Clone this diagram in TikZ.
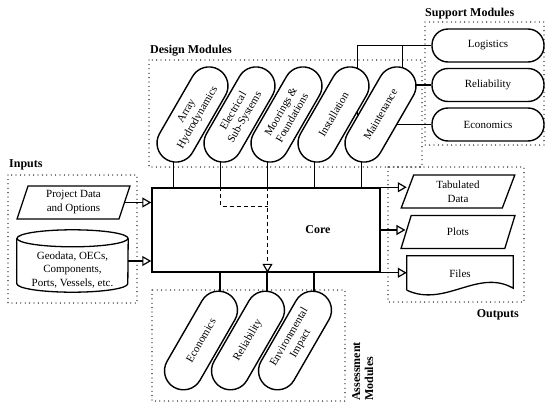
\documentclass[tikz,border=0pt]{standalone}
\usepackage{fontspec}
\setmainfont{Liberation Serif}
\usepackage{tikz}
\usetikzlibrary{arrows.meta,positioning,calc,shapes.geometric,backgrounds}
\tikzset{
  modbox/.style={draw, line width=1.4pt, rounded corners=19pt, rotate=60,
    minimum width=104pt, minimum height=38pt, inner sep=1pt, align=center, fill=white,
    font=\fontsize{11}{13}\selectfont},
  suppbox/.style={draw, line width=1.4pt, rounded corners=16pt,
    minimum width=112pt, minimum height=33pt, align=center, fill=white,
    font=\fontsize{11}{13}\selectfont},
  iobox/.style={trapezium, trapezium left angle=75, trapezium right angle=105,
    trapezium stretches=true, draw, line width=1.3pt, minimum width=113pt,
    minimum height=33pt, inner sep=1pt, align=center, fill=white,
    font=\fontsize{11}{14}\selectfont},
  plainbox/.style={align=center, inner sep=0pt, font=\fontsize{11}{13.5}\selectfont},
  corebox/.style={draw, line width=1.5pt, minimum width=228pt, minimum height=84pt},
  groupbox/.style={line width=1.3pt, dash pattern=on 0pt off 4.4pt, line cap=round},
  grouplabel/.style={font=\fontsize{12}{13}\selectfont\bfseries, inner sep=0pt},
  shapeline/.style={line width=1.3pt},
  link/.style={line width=1.2pt},
  flow/.style={-{Triangle[length=9pt,width=10pt,fill=white]}, line width=1.2pt},
  dashedlink/.style={link, dash pattern=on 4pt off 3pt},
  dashedflow/.style={flow, dash pattern=on 4pt off 3pt}
}

\begin{document}
\begin{tikzpicture}[x=1pt, y=1pt]
\useasboundingbox (0,0) rectangle (550,-410);

% core
\node[corebox, label={[grouplabel, xshift=52pt]center:Core}] (core) at (266,-230) {};

% design modules
\node[modbox] (arr) at (192.5,-114.5) {Array\\Hydrodynamics};
\node[modbox] (elec) at (239.5,-114.5) {Electrical\\Sub-Systems};
\node[modbox] (moor) at (286.5,-114.5) {Moorings \&\\Foundations};
\node[modbox] (inst) at (333.5,-114.5) {Installation};
\node[modbox] (main) at (380.5,-114.5) {Maintenance};

% support modules
\node[suppbox] (logi) at (488,-45.5) {Logistics};
\node[suppbox] (rel) at (488,-85) {Reliability};
\node[suppbox] (econ) at (488,-124.5) {Economics};

% assessment modules
\node[modbox, minimum width=108pt] (aecon) at (201,-340.5) {Economics};
\node[modbox, minimum width=108pt] (arel) at (248,-340.5) {Reliability};
\node[modbox, minimum width=108pt] (aenv) at (295,-340.5) {Environmental\\Impact};

% inputs
\node[iobox] (proj) at (73.5,-202.5) {Project Data\\and Options};
\node[minimum width=111pt, minimum height=62pt, inner sep=0pt] (cyl) at (72.5,-261) {};
\draw[shapeline] ([yshift=-8.5pt]cyl.north) ellipse [x radius=55.5pt, y radius=8.5pt];
\draw[shapeline] ([yshift=-8.5pt]cyl.north west) -- ([yshift=8.5pt]cyl.south west)
  arc[start angle=180, end angle=360, x radius=55.5pt, y radius=8.5pt]
  -- ([yshift=-8.5pt]cyl.north east);
\node[plainbox] (geo) at ([yshift=-9pt]cyl.center) {Geodata, OECs,\\Components,\\Ports, Vessels, etc.};

% outputs
\node[iobox, minimum width=114pt] (tab) at (458,-191.5) {Tabulated\\Data};
\node[iobox, minimum width=114pt] (plots) at (458,-232) {Plots};
\node[plainbox, minimum width=106pt, minimum height=36pt] (files) at (460,-274) {Files};
\draw[shapeline] ([yshift=2pt]files.south west) -- (files.north west) -- (files.north east)
  -- ([yshift=4pt]files.south east)
  .. controls (478,-268) and (445,-308) .. ([yshift=2pt]files.south west);

% group labels
\node[grouplabel, anchor=base west] (deslbl) at (150,-53) {Design Modules};
\node[grouplabel, anchor=base west] (suplbl) at (425,-16) {Support Modules};
\node[grouplabel, anchor=base west] (inlbl) at (9,-167) {Inputs};
\node[grouplabel, anchor=base east] (outlbl) at (519,-317) {Outputs};
\node[grouplabel, rotate=90, anchor=north west, align=left] (asslbl) at (352,-401) {Assessment\\Modules};

\begin{scope}[on background layer]
  % groups
  \draw[groupbox] (149,-60) rectangle (422,-167);
  \draw[groupbox] (425,-22) rectangle (544,-145);
  \draw[groupbox] (8,-175) rectangle (137,-303);
  \draw[groupbox] (388,-167) rectangle (524,-302);
  \draw[groupbox] (152,-290) rectangle (345,-401);
  % module links
  \foreach \m in {arr,elec,moor,inst,main}
    \draw[link] (\m.center) ++(-19,0) coordinate (\m-c) -- (\m-c |- core.north) coordinate (\m-b);
  \foreach \m in {aecon,arel,aenv}
    \draw[link] (\m.center) ++(19,0) coordinate (\m-c) -- (\m-c |- core.south);
  \draw[link] (inst.center) ++(24,0) coordinate (inst-t) |- (logi.west);
  \draw[link] (main.center) ++(22,0) coordinate (main-t) -- (main-t |- logi.west);
  \draw[link] (rel.west) -- (rel.west -| main.center);
  \draw[link] (econ.west) -- (econ.west -| main.center);
\end{scope}

% flows
\draw[flow] (proj.east) -- (proj.east -| core.west);
\draw[flow] (cyl.east) -- (cyl.east -| core.west);
\draw[flow] (core.north east) -- (core.north east -| tab.west);
\draw[flow] (core.east) -- (core.east -| plots.west);
\draw[flow] (core.south east) -- (core.south east -| files.west);
\draw[dashedlink] (elec-b) |- ([yshift=-19pt]moor-b);
\draw[dashedflow] (moor-b) -- (moor-b |- core.south);
\end{tikzpicture}
\end{document}
